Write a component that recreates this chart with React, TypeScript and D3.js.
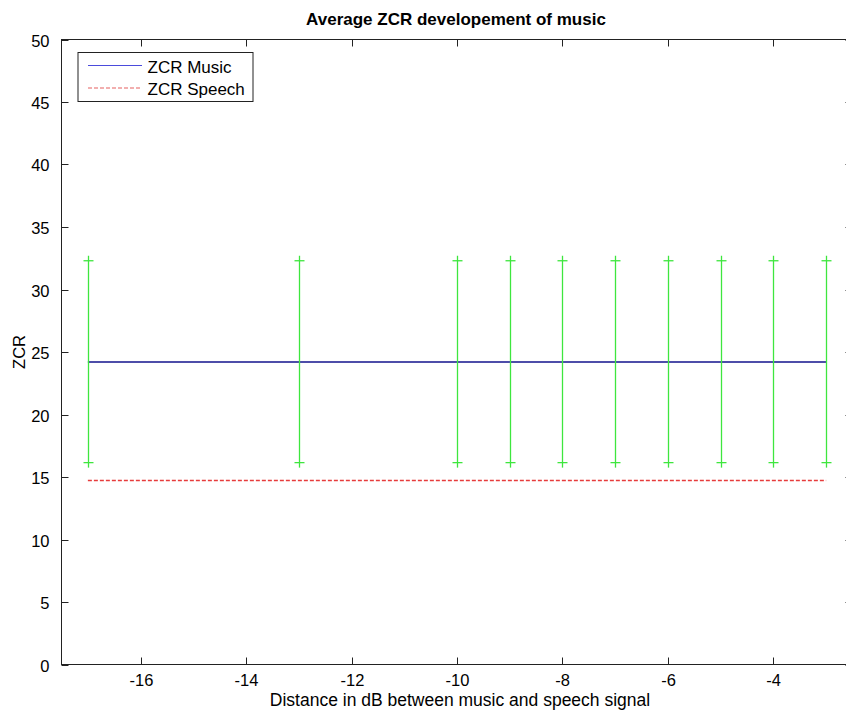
import React from "react";
import * as d3 from "d3";

const distances = [-17, -13, -10, -9, -8, -7, -6, -5, -4, -3];
const musicZcr = [24.2, 24.2, 24.2, 24.2, 24.2, 24.2, 24.2, 24.2, 24.2, 24.2];
const musicLow = [16.15, 16.15, 16.15, 16.15, 16.15, 16.15, 16.15, 16.15, 16.15, 16.15];
const musicHigh = [32.3, 32.3, 32.3, 32.3, 32.3, 32.3, 32.3, 32.3, 32.3, 32.3];
const speechZcr = [14.72, 14.72, 14.72, 14.72, 14.72, 14.72, 14.72, 14.72, 14.72, 14.72];
const xTicks = [-16, -14, -12, -10, -8, -6, -4];
const yTicks = [0, 5, 10, 15, 20, 25, 30, 35, 40, 45, 50];

const W = 846;
const H = 711;
const L = 61.5, R = 852.5, T = 39.5, B = 664.5;
const font = "Arial, 'Liberation Sans', sans-serif";

export default function App() {
  const x = d3.scaleLinear().domain([-17.5, -2.5]).range([L, R]);
  const y = d3.scaleLinear().domain([0, 50]).range([B, T]);
  const line = d3.line<number>().x((_, i) => x(distances[i])).y((v) => y(v));
  const tick = 7;
  return (
    <svg width={W} height={H} style={{ position: "absolute", left: 0, top: 0, background: "#fff" }}>
      <rect x={0} y={0} width={W} height={H} fill="#fff" />
      {/* music mean line */}
      <path d={line(musicZcr) || ""} fill="none" stroke="#12128c" strokeWidth={1.6} />
      {/* error bars */}
      {distances.map((d, i) => {
        const cx = Math.round(x(d)) + 0.5;
        const yt = y(musicHigh[i]);
        const yb = y(musicLow[i]);
        return (
          <g key={d} stroke="#3ee63e" strokeWidth={1.3}>
            <line x1={cx} x2={cx} y1={yt - 5} y2={yb + 5} />
            <line x1={cx - 5} x2={cx + 5} y1={yt} y2={yt} />
            <line x1={cx - 5} x2={cx + 5} y1={yb} y2={yb} />
          </g>
        );
      })}
      {/* speech line */}
      <path d={line(speechZcr) || ""} fill="none" stroke="#e63c3c" strokeWidth={1.4} strokeDasharray="4,2" />
      {/* axes box */}
      <rect x={L} y={T} width={R - L} height={B - T} fill="none" stroke="#222" strokeWidth={1} />
      {xTicks.map((t) => {
        const px = Math.round(x(t)) + 0.5;
        return (
          <g key={"x" + t}>
            <line x1={px} x2={px} y1={B} y2={B - tick} stroke="#222" />
            <line x1={px} x2={px} y1={T} y2={T + tick} stroke="#222" />
            <text x={px} y={B + 21.5} fontSize={16.5} fontFamily={font} textAnchor="middle" fill="#000">
              {t}
            </text>
          </g>
        );
      })}
      {yTicks.map((t) => {
        const py = Math.round(y(t)) + 0.5;
        return (
          <g key={"y" + t}>
            <line x1={L} x2={L + tick} y1={py} y2={py} stroke="#222" />
            <line x1={R} x2={R - tick} y1={py} y2={py} stroke="#222" />
            <text x={L - 12} y={py + 6} fontSize={16.5} fontFamily={font} textAnchor="end" fill="#000">
              {t}
            </text>
          </g>
        );
      })}
      {/* title and labels */}
      <text x={456} y={25} fontSize={17} fontWeight="bold" fontFamily={font} textAnchor="middle" fill="#000">
        Average ZCR developement of music
      </text>
      <text x={460} y={706} fontSize={17.5} fontFamily={font} textAnchor="middle" fill="#000">
        Distance in dB between music and speech signal
      </text>
      <text
        x={0}
        y={0}
        transform={`translate(25, ${(T + B) / 2}) rotate(-90)`}
        fontSize={16.5}
        fontFamily={font}
        textAnchor="middle"
        fill="#000"
      >
        ZCR
      </text>
      {/* legend */}
      <g>
        <rect x={78} y={52.5} width={175} height={49} fill="#fff" stroke="#222" strokeWidth={1} />
        <line x1={88} x2={142} y1={65.5} y2={65.5} stroke="#4b4bdc" strokeWidth={1.2} />
        <text x={147.5} y={72.5} fontSize={17} fontFamily={font} fill="#000">
          ZCR Music
        </text>
        <line x1={88} x2={142} y1={88} y2={88} stroke="#e66060" strokeWidth={1.2} strokeDasharray="4,2" />
        <text x={147.5} y={94.5} fontSize={17} fontFamily={font} fill="#000">
          ZCR Speech
        </text>
      </g>
    </svg>
  );
}
